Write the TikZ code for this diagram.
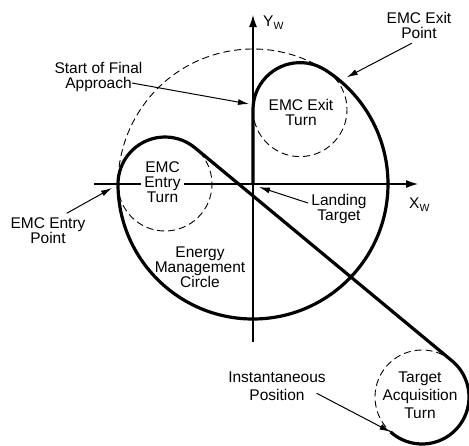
\documentclass[tikz,border=0pt]{standalone}
\usepackage{fontspec}
\setmainfont{Liberation Sans}
\usetikzlibrary{arrows.meta}
\begin{document}
\begin{tikzpicture}[x=1pt,y=1pt,
  lbl/.style={font=\fontsize{15.5}{15}\selectfont, align=center, inner sep=0pt, anchor=north},
  lblwide/.style={lbl, font=\fontsize{15.5}{18}\selectfont},
  axlbl/.style={font=\fontsize{15.5}{15}\selectfont, inner sep=0pt, anchor=base west},
  axis/.style={line width=1.1pt, -{Latex[length=12pt,width=8pt]}},
  guide/.style={line width=0.9pt, dash pattern=on 7pt off 4pt},
  flight/.style={line width=3.2pt, line join=round},
  ptr/.style={line width=1pt, -{Latex[length=11pt,width=6pt]}}]
\useasboundingbox[fill=white] (-253,-261) rectangle (216,184);

% centres
\coordinate (O) at (0,0);
\coordinate (Ec) at (-88,0);
\coordinate (Xc) at (47,74.4);
\coordinate (Tc) at (169,-213);

% axes
\coordinate (xl) at (-159,0);
\coordinate (xr) at (165,0);
\coordinate (yb) at (0,-158);
\coordinate (yt) at (0,169);
\draw[axis] (xl) -- (xr);
\draw[axis] (yb) -- (yt);

% dashed guide arcs
\draw[guide] ([shift={(57.7:135pt)}]O) arc[start angle=57.7, end angle=180, radius=135pt];
\draw[guide] ([shift={(180:47pt)}]Ec) arc[start angle=180, end angle=410.3, radius=47pt];
\draw[guide] ([shift={(-180:47pt)}]Xc) arc[start angle=-180, end angle=57.7, radius=47pt];
\draw[guide] ([shift={(50.3:47pt)}]Tc) arc[start angle=50.3, end angle=228, radius=47pt];

% flight path
\coordinate (inst) at ([shift={(228:47pt)}]Tc);
\draw[flight] (inst) arc[start angle=228, end angle=410.3, radius=47pt]
  -- ([shift={(50.3:47pt)}]Ec) arc[start angle=50.3, end angle=180, radius=47pt]
  arc[start angle=180, end angle=417.7, radius=135pt]
  arc[start angle=57.7, end angle=180, radius=47pt] -- (O);

% labels
\node[axlbl] (yw) at (10,157.3) {Y\raisebox{-3pt}{\fontsize{10.5}{10}\selectfont W}};
\node[axlbl] (xw) at (156,-24) {X\raisebox{-3pt}{\fontsize{10.5}{10}\selectfont W}};
\node[lbl] (exitpt) at (166,171.5) {EMC Exit\\Point};
\node[lbl] (sfa) at (-154.5,122) {Start of Final\\Approach};
\node[lbl] (exitturn) at (48,84.5) {EMC Exit\\Turn};
\node[lbl, fill=white, inner xsep=3pt] (entryturn) at (-90.5,22.3) {EMC\\Entry\\Turn};
\node[lbl] (land) at (86,-10) {Landing\\Target};
\node[lbl] (entrypt) at (-205,-33.3) {EMC Entry\\Point};
\node[lbl] (emc) at (-53,-62.7) {Energy\\Management\\Circle};
\node[lblwide] (instlbl) at (24,-188) {Instantaneous\\Position};
\node[lblwide] (tat) at (167,-188) {Target\\Acquisition\\Turn};

% pointer arrows
\coordinate (exitptFrom) at (158.7,140.7);
\coordinate (exitptTip) at (93.7,106.7);
\coordinate (sfaFrom) at (-121,101);
\coordinate (sfaTip) at (-4,80);
\coordinate (landFrom) at (55,-19);
\coordinate (landTip) at (6,-3);
\coordinate (entryptFrom) at (-186.3,-29.3);
\coordinate (entryptTip) at (-141,-4);
\coordinate (instFrom) at (63.7,-209.3);
\draw[ptr] (exitptFrom) -- (exitptTip);
\draw[ptr] (sfaFrom) -- (sfaTip);
\draw[ptr] (landFrom) -- (landTip);
\draw[ptr] (entryptFrom) -- (entryptTip);
\draw[ptr] (instFrom) -- (inst);
\end{tikzpicture}
\end{document}
